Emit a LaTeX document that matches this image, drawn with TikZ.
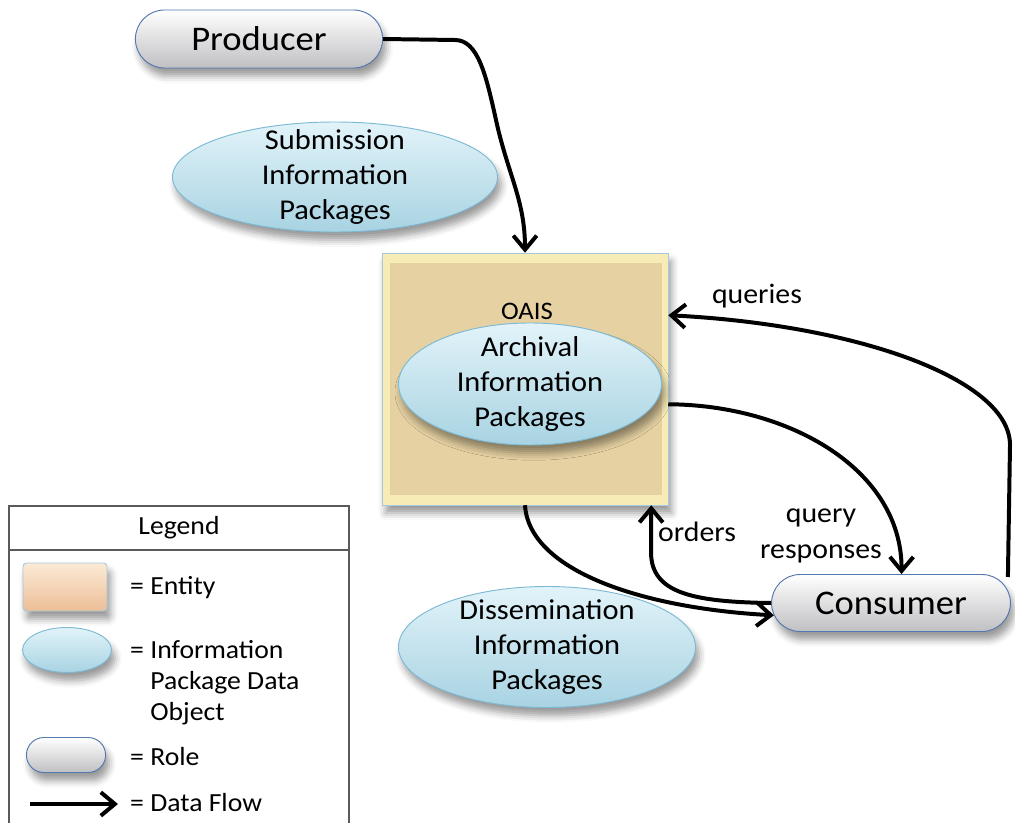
\documentclass[tikz,border=0pt]{standalone}
\usepackage{fontspec}
\setmainfont{Carlito}[FakeStretch=1.06]
\usetikzlibrary{arrows.meta,shapes.misc,shapes.geometric,shadows.blur}

\definecolor{rolebd}{RGB}{84,120,176}
\definecolor{rolebot}{RGB}{192,192,195}
\definecolor{ipbd}{RGB}{125,185,212}
\definecolor{iptop}{RGB}{226,243,249}
\definecolor{ipbot}{RGB}{168,211,226}
\definecolor{sackedge}{RGB}{248,236,182}
\definecolor{sack}{RGB}{229,209,162}
\definecolor{sackbd}{RGB}{165,200,222}
\definecolor{entitytop}{RGB}{252,234,214}
\definecolor{entitybot}{RGB}{236,190,150}
\definecolor{legendbd}{RGB}{90,90,90}

\newcommand\rolefont{\fontsize{29.5}{35}\selectfont}
\newcommand\ipfont{\fontsize{24.5}{30}\selectfont}
\newcommand\flowfont{\fontsize{24}{30}\selectfont}
\newcommand\oaisfont{\fontsize{21.5}{25}\selectfont}
\newcommand\legendfont{\fontsize{22.3}{26.5}\selectfont}

\begin{document}
\begin{tikzpicture}[x=0.03cm,y=-0.03cm,
  softshadow/.style={blur shadow={shadow xshift=3pt,shadow yshift=-7pt,shadow blur radius=6pt,shadow opacity=40}},
  role/.style={rounded rectangle,draw=rolebd,line width=0.8pt,top color=white,bottom color=rolebot,softshadow},
  ip/.style={ellipse,draw=ipbd,line width=0.8pt,top color=iptop,bottom color=ipbot,inner sep=0pt,softshadow},
  iptext/.style={align=center,font=\ipfont},
  flow/.style={line width=3.4pt,-{Straight Barb[length=12pt,width=20pt]}},
  flowlabel/.style={font=\flowfont},
  legendtext/.style={font=\legendfont,inner sep=0pt}]

\useasboundingbox (0,0) rectangle (1015,823);

    % roles
    \node[role,minimum width=7.65cm,minimum height=1.74cm,font=\rolefont] (prod) at (259,39) {Producer};
    \node[role,minimum width=7.4cm,minimum height=1.71cm,font=\rolefont] (cons) at (891,603) {Consumer};

    % the archive
    \node[draw=sackbd,fill=sackedge,minimum width=8.58cm,minimum height=7.56cm,softshadow] (oais) at (525,379) {};
    \fill[sack] ([shift={(8,10)}]oais.north west) rectangle ([shift={(-6,-10)}]oais.south east);
    \node[font=\oaisfont] (oaistext) at (527,311) {OAIS};

    % information packages
    \node[ip,minimum width=9.75cm,minimum height=3.3cm] (sip) at (335,177) {};
    \node[iptext] (siptext) at (sip) {Submission\\Information\\Packages};
    \node[ip,minimum width=7.89cm,minimum height=3.66cm] (aip) at (530,384) {};
    \node[iptext] (aiptext) at (aip) {Archival\\Information\\Packages};
    \node[ip,minimum width=8.91cm,minimum height=3.63cm] (dip) at (547,647) {};
    \node[iptext] (diptext) at (dip) {Dissemination\\Information\\Packages};

    % data flows
    \draw[flow] (prod.east) -- (455,40) .. controls (478,40) and (486,75) .. (496,120) .. controls (508,175) and (525,200) .. (oais.north);
    \draw[flow] ([shift={(-3,-26)}]cons.east) -- (1010,445) .. controls (1010,380) and (860,325) .. (oais.24);
    \draw[flow] (oais.-10) .. controls (790,405) and (902,470) .. (cons.70);
    \draw[flow] (cons.west) .. controls (690,602) and (651,592) .. (651,552) -- (oais.-45);
    \draw[flow] (oais.south) .. controls (529,570) and (640,608) .. (cons.186);

    \node[flowlabel] (querieslabel) at (757,296) {queries};
    \node[flowlabel,align=center] (responseslabel) at (821,536) {query\\responses};
    \node[flowlabel] (orderslabel) at (697,532) {orders};

    % legend
    \draw[legendbd,line width=1.2pt] (9,830) -- (9,506) -- (349,506) -- (349,830);
    \draw[legendbd,line width=1.2pt] (9,550) -- (349,550);
    \node[font=\legendfont] (legendtitle) at (179,528) {Legend};

    \node[draw=sackbd,line width=0.8pt,top color=entitytop,bottom color=entitybot,rounded corners=3pt,minimum width=2.52cm,minimum height=1.44cm,softshadow] (entity) at (65,587) {};
    \node[legendtext,anchor=base west] (entitytext) at (130,594) {= Entity};

    \node[ip,minimum width=2.67cm,minimum height=1.35cm] (ipkey) at (67,650) {};
    \node[legendtext,anchor=west,align=left] (ipkeytext) at (130,683) {= Information\\\hphantom{= }Package Data\\\hphantom{= }Object};

    \node[role,minimum width=2.61cm,minimum height=1.05cm] (rolekey) at (66,755) {};
    \node[legendtext,anchor=base west] (rolekeytext) at (130,765) {= Role};

    \coordinate (flowkeystart) at (30,804);
    \coordinate (flowkeyend) at (118,804);
    \draw[flow] (flowkeystart) -- (flowkeyend);
    \node[legendtext,anchor=base west] (flowkeytext) at (130,811) {= Data Flow};
     \end{tikzpicture}
\end{document}
